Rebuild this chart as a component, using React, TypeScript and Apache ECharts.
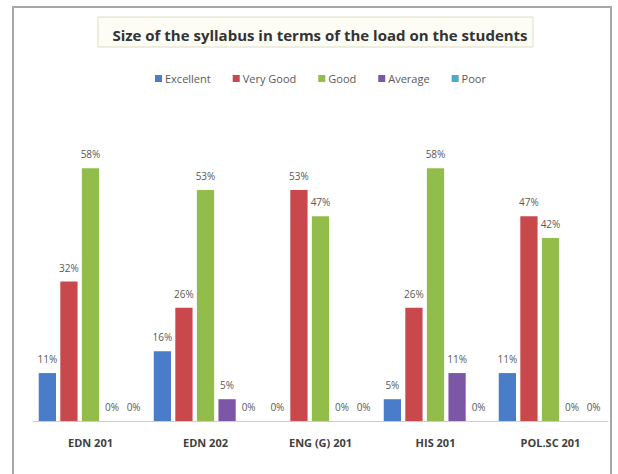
import React, { useEffect, useRef } from "react";
import * as echarts from "echarts";

const categories = ["EDN 201", "EDN 202", "ENG (G) 201", "HIS 201", "POL.SC 201"];
const seriesNames = ["Excellent", "Very Good", "Good", "Average", "Poor"];
const excellent = [11, 16, 0, 5, 11];
const veryGood = [32, 26, 53, 26, 47];
const good = [58, 53, 47, 58, 42];
const average = [0, 5, 0, 11, 0];
const poor = [0, 0, 0, 0, 0];
const colors = ["#4a7dc9", "#c9484b", "#93bd4b", "#7c57a6", "#4bacc6"];

export default function App() {
  const ref = useRef<HTMLDivElement>(null);
  useEffect(() => {
    document.body.style.margin = "0";
    const chart = echarts.init(ref.current!, null, { renderer: "svg" });
    const values = [excellent, veryGood, good, average, poor];
    chart.setOption({
      animation: false,
      backgroundColor: "#ffffff",
      textStyle: { fontFamily: "Open Sans" },
      graphic: [
        {
          type: "rect",
          shape: { x: 13, y: 7, width: 598, height: 480 },
          style: { fill: "none", stroke: "#a8a8a8", lineWidth: 2 },
          z: 0,
        },
        {
          type: "rect",
          shape: { x: 98, y: 17, width: 435, height: 30 },
          style: { fill: "#fdfdf6", stroke: "#dcdcc6", lineWidth: 1 },
          z: 0,
        },
      ],
      title: {
        text: "Size of the syllabus in terms of the load on the students",
        left: 315,
        textAlign: "center",
        top: 22,
        textStyle: { fontSize: 15, fontWeight: "bold", color: "#333333", fontFamily: "Open Sans", letterSpacing: -0.2 },
      },
      legend: {
        top: 68,
        left: 150,
        width: 420,
        itemWidth: 7,
        itemHeight: 7,
        itemGap: 22,
        icon: "rect",
        data: seriesNames,
        textStyle: { fontSize: 11, color: "#595959", padding: [0, 0, 0, -2] },
      },
      grid: { left: 33, right: 10, top: 116, bottom: 53 },
      xAxis: {
        type: "category",
        data: categories,
        axisLine: { lineStyle: { color: "#cccccc", width: 1 } },
        axisTick: { show: false },
        axisLabel: { fontSize: 11, fontWeight: "bold", color: "#404040", margin: 16 },
      },
      yAxis: {
        type: "value",
        min: 0,
        max: 70,
        show: false,
        splitLine: { show: false },
      },
      series: seriesNames.map((name, i) => ({
        name,
        type: "bar",
        data: values[i],
        barGap: "25%",
        barCategoryGap: "10%",
        itemStyle: { color: colors[i] },
        label: {
          show: true,
          position: "top",
          distance: 9,
          formatter: "{c}%",
          fontSize: 10,
          color: "#595959",
        },
      })),
    });
    return () => chart.dispose();
  }, []);
  return <div ref={ref} style={{ width: 618, height: 474 }} />;
}
